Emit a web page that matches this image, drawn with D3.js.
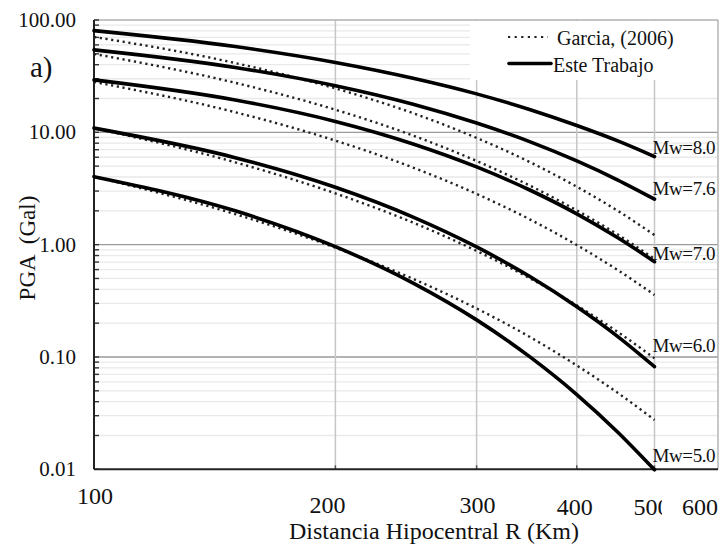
<!DOCTYPE html>
<html>
<head>
<meta charset="utf-8">
<script src="https://cdn.jsdelivr.net/npm/d3@7"></script>
<style>
  html, body { margin: 0; padding: 0; background: #fff; }
  svg { display: block; }
  text { font-family: "Liberation Serif", "Times New Roman", serif; fill: #111; }
</style>
</head>
<body>
<svg id="chart" width="723" height="544"></svg>
<script>
// Hypocentral distance (km) at which each curve is sampled
const distances = [100, 150, 200, 250, 300, 350, 400, 450, 500];

// PGA (Gal), this work
const esteMw80 = [80.4, 58.0, 41.9, 30.3, 22.0, 15.9, 11.5, 8.38, 6.08];
const esteMw76 = [54.2, 37.8, 26.0, 17.8, 12.1, 8.23, 5.56, 3.76, 2.54];
const esteMw70 = [29.3, 19.4, 12.5, 7.88, 4.92, 3.05, 1.88, 1.15, 0.706];
const esteMw60 = [10.9, 5.95, 3.24, 1.76, 0.954, 0.517, 0.280, 0.152, 0.082];
const esteMw50 = [4.03, 2.00, 0.960, 0.455, 0.214, 0.0996, 0.0463, 0.0214, 0.0099];

// PGA (Gal), Garcia (2006)
const garciaMw80 = [70.7, 41.4, 24.6, 14.8, 8.92, 5.41, 3.28, 2.00, 1.22];
const garciaMw76 = [49.9, 27.6, 15.9, 9.35, 5.56, 3.34, 2.02, 1.23, 0.746];
const garciaMw70 = [28.1, 15.1, 8.44, 4.85, 2.83, 1.67, 0.992, 0.593, 0.357];
const garciaMw60 = [10.9, 5.41, 2.86, 1.57, 0.879, 0.500, 0.288, 0.167, 0.0974];
const garciaMw50 = [4.03, 1.87, 0.940, 0.496, 0.270, 0.150, 0.0840, 0.0479, 0.0275];

const magnitudeLabels = ["Mw=8.0", "Mw=7.6", "Mw=7.0", "Mw=6.0", "Mw=5.0"];
const legendLabels = ["Garcia, (2006)", "Este Trabajo"];

const xTickValues = [100, 200, 300, 400, 500, 600];
const yTickValues = [0.01, 0.1, 1, 10, 100];

const esteSeries = [esteMw80, esteMw76, esteMw70, esteMw60, esteMw50];
const garciaSeries = [garciaMw80, garciaMw76, garciaMw70, garciaMw60, garciaMw50];

// ---- layout ----
const plot = { left: 94, right: 718, top: 20, bottom: 469.3 };
const svg = d3.select("#chart");

const x = d3.scaleLog().domain([100, 600]).range([plot.left, plot.right]);
const y = d3.scaleLog().domain([0.01, 100]).range([plot.bottom, plot.top]);

// minor horizontal grid (2..9 within each decade)
const minorVals = [];
[0.01, 0.1, 1, 10].forEach(d => { for (let k = 2; k <= 9; k++) minorVals.push(k * d); });

svg.append("g").selectAll("line").data(minorVals).join("line")
  .attr("x1", plot.left).attr("x2", plot.right)
  .attr("y1", d => y(d)).attr("y2", d => y(d))
  .attr("stroke", "#e9e9e9").attr("stroke-width", 1.3);

// major horizontal grid
svg.append("g").selectAll("line").data(yTickValues.slice(1, -1)).join("line")
  .attr("x1", plot.left).attr("x2", plot.right)
  .attr("y1", d => y(d)).attr("y2", d => y(d))
  .attr("stroke", "#9a9a9a").attr("stroke-width", 1.4);

// vertical grid
svg.append("g").selectAll("line").data(xTickValues.slice(1, -1)).join("line")
  .attr("x1", d => x(d)).attr("x2", d => x(d))
  .attr("y1", plot.top).attr("y2", plot.bottom)
  .attr("stroke", "#c6c6c6").attr("stroke-width", 1.5);

// legend background box (hides the grid behind it)
svg.append("rect")
  .attr("x", 470).attr("y", plot.top + 1)
  .attr("width", plot.right - 471).attr("height", 59)
  .attr("fill", "#fff");

// frame: top and right in gray
svg.append("line").attr("x1", plot.left).attr("x2", plot.right)
  .attr("y1", plot.top).attr("y2", plot.top)
  .attr("stroke", "#b0b0b0").attr("stroke-width", 1.4);
svg.append("line").attr("x1", plot.right).attr("x2", plot.right)
  .attr("y1", plot.top).attr("y2", plot.bottom)
  .attr("stroke", "#b0b0b0").attr("stroke-width", 1.4);

// left axis minor/major ticks pointing inward
svg.append("g").selectAll("line").data(minorVals.concat(yTickValues)).join("line")
  .attr("x1", plot.left).attr("x2", plot.left + 5)
  .attr("y1", d => y(d)).attr("y2", d => y(d))
  .attr("stroke", "#333").attr("stroke-width", 1.4);

// bottom axis ticks
svg.append("g").selectAll("line").data(xTickValues.slice(1, -1)).join("line")
  .attr("x1", d => x(d)).attr("x2", d => x(d))
  .attr("y1", plot.bottom).attr("y2", plot.bottom - 4)
  .attr("stroke", "#555").attr("stroke-width", 1.5);

// axis lines
svg.append("line").attr("x1", plot.left).attr("x2", plot.left)
  .attr("y1", plot.top).attr("y2", plot.bottom)
  .attr("stroke", "#222").attr("stroke-width", 2);
svg.append("line").attr("x1", plot.left).attr("x2", plot.right)
  .attr("y1", plot.bottom).attr("y2", plot.bottom)
  .attr("stroke", "#222").attr("stroke-width", 2);

// curves
const line = d3.line()
  .x((d, i) => x(distances[i]))
  .y(d => y(d))
  .curve(d3.curveMonotoneX);

svg.append("g").selectAll("path").data(garciaSeries).join("path")
  .attr("d", line)
  .attr("fill", "none").attr("stroke", "#222")
  .attr("stroke-width", 2.4).attr("stroke-dasharray", "2.2,3.6");

svg.append("g").selectAll("path").data(esteSeries).join("path")
  .attr("d", line)
  .attr("fill", "none").attr("stroke", "#000")
  .attr("stroke-width", 3.6).attr("stroke-linecap", "round");

// magnitude labels at the end of each curve
const labelLift = [3, 4, 2, 15, 8];
svg.append("g").selectAll("text").data(magnitudeLabels).join("text")
  .attr("x", x(500) - 2)
  .attr("y", (d, i) => y(esteSeries[i][esteSeries[i].length - 1]) - labelLift[i])
  .attr("font-size", 19).attr("letter-spacing", -0.4)
  .text(d => d);

// y tick labels
const fmtY = d3.format(".2f");
svg.append("g").selectAll("text").data(yTickValues).join("text")
  .attr("x", 76).attr("y", d => y(d) + 7)
  .attr("text-anchor", "end").attr("font-size", 21)
  .text(d => fmtY(d));

// x tick labels
const xLabelShift = { 100: [1, -9], 200: [-8, 0], 300: [1, 0], 400: [-2, 2], 500: [-3, 2], 600: [-18, 2] };
svg.append("defs").append("clipPath").attr("id", "clip500")
  .append("rect").attr("x", 600).attr("y", 470).attr("width", 62).attr("height", 60);
svg.append("g").selectAll("text").data(xTickValues).join("text")
  .attr("x", d => x(d) + xLabelShift[d][0])
  .attr("y", d => 513 + xLabelShift[d][1])
  .attr("text-anchor", "middle").attr("font-size", 24)
  .attr("clip-path", d => d === 500 ? "url(#clip500)" : null)
  .text(d => d);

// axis titles
svg.append("text")
  .attr("x", 434).attr("y", 539)
  .attr("text-anchor", "middle").attr("font-size", 24)
  .text("Distancia Hipocentral R (Km)");

svg.append("text")
  .attr("transform", "translate(35,248) rotate(-90)")
  .attr("text-anchor", "middle").attr("font-size", 23)
  .style("white-space", "pre")
  .text("PGA  (Gal)");

// panel tag
svg.append("text").attr("x", 30).attr("y", 77).attr("font-size", 29).text("a)");

// legend
const legend = svg.append("g");
legend.append("line").attr("x1", 508).attr("x2", 548).attr("y1", 37).attr("y2", 37)
  .attr("stroke", "#222").attr("stroke-width", 2.2).attr("stroke-dasharray", "2.2,4.4");
legend.append("text").attr("x", 557).attr("y", 45).attr("font-size", 20).text(legendLabels[0]);
legend.append("line").attr("x1", 509).attr("x2", 551).attr("y1", 63.5).attr("y2", 63.5)
  .attr("stroke", "#000").attr("stroke-width", 3.6).attr("stroke-linecap", "round");
legend.append("text").attr("x", 553).attr("y", 72).attr("font-size", 20).text(legendLabels[1]);
</script>
</body>
</html>
